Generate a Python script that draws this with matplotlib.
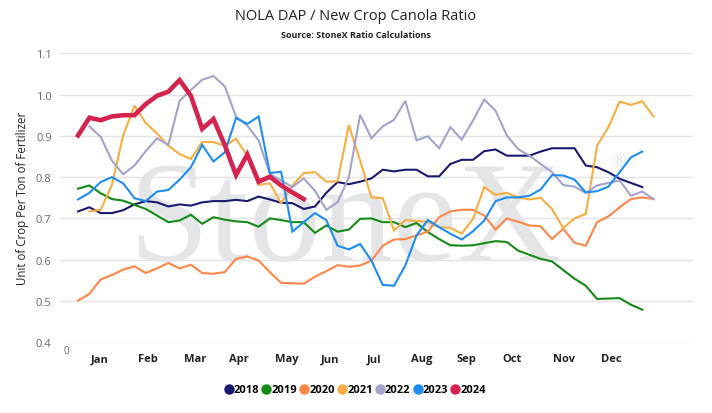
import numpy as np
import matplotlib
matplotlib.use("Agg")
import matplotlib.pyplot as plt
from matplotlib.lines import Line2D

plt.rcParams['font.family'] = ['Open Sans', 'DejaVu Sans']

# ------------------------------------------------------------------
# Data: weekly ratio (week 1..52)
# ------------------------------------------------------------------
weeks = np.arange(1, 53)

r2018 = [0.717, 0.727, 0.713, 0.713, 0.720, 0.734, 0.742, 0.739, 0.729, 0.734,
         0.731, 0.739, 0.742, 0.742, 0.745, 0.742, 0.753, 0.746, 0.738, 0.737,
         0.723, 0.729, 0.762, 0.788, 0.783, 0.789, 0.797, 0.818, 0.814, 0.818,
         0.818, 0.802, 0.802, 0.832, 0.842, 0.842, 0.863, 0.867, 0.852, 0.852,
         0.852, 0.862, 0.870, 0.870, 0.870, 0.828, 0.824, 0.812, 0.796, 0.786, 0.776, None]
r2019 = [0.772, 0.780, 0.761, 0.747, 0.743, 0.733, 0.723, 0.707, 0.691, 0.695,
         0.709, 0.687, 0.703, 0.697, 0.693, 0.691, 0.680, 0.700, 0.696, 0.691,
         0.691, 0.665, 0.683, 0.668, 0.673, 0.699, 0.700, 0.691, 0.691, 0.679,
         0.689, 0.667, 0.650, 0.635, 0.634, 0.635, 0.640, 0.645, 0.643, 0.622,
         0.612, 0.602, 0.596, 0.575, 0.554, 0.537, 0.505, 0.506, 0.507, 0.491, 0.479, None]
r2020 = [0.501, 0.517, 0.552, 0.563, 0.576, 0.584, 0.568, 0.579, 0.592, 0.579,
         0.588, 0.568, 0.566, 0.570, 0.602, 0.608, 0.598, 0.570, 0.544, 0.543,
         0.542, 0.559, 0.572, 0.587, 0.583, 0.586, 0.598, 0.634, 0.649, 0.650,
         0.659, 0.668, 0.703, 0.717, 0.721, 0.721, 0.707, 0.673, 0.700, 0.692,
         0.683, 0.681, 0.650, 0.675, 0.641, 0.634, 0.691, 0.705, 0.727, 0.747, 0.751, 0.747]
r2021 = [None, 0.717, 0.721, 0.781, 0.901, 0.973, 0.931, 0.906, 0.876, 0.856, 0.844,
         0.885, 0.885, 0.876, 0.893, 0.852, 0.781, 0.785, 0.737, 0.780, 0.810,
         0.812, 0.789, 0.790, 0.926, 0.840, 0.751, 0.749, 0.671, 0.696, 0.694,
         0.692, 0.679, 0.677, 0.663, 0.699, 0.776, 0.757, 0.762, 0.751, 0.746,
         0.750, 0.723, 0.677, 0.700, 0.711, 0.876, 0.921, 0.983, 0.975, 0.984, 0.947]
r2022 = [None, 0.923, 0.898, 0.840, 0.807, 0.828, 0.863, 0.894, 0.878, 0.985, 1.011,
         1.036, 1.045, 1.020, 0.947, 0.925, 0.889, 0.808, 0.792, 0.776, 0.797,
         0.767, 0.721, 0.739, 0.800, 0.951, 0.894, 0.923, 0.939, 0.985, 0.889,
         0.899, 0.870, 0.921, 0.891, 0.937, 0.988, 0.961, 0.901, 0.868, 0.852,
         0.832, 0.812, 0.781, 0.777, 0.762, 0.780, 0.786, 0.792, 0.755, 0.765, 0.747]
r2023 = [0.746, 0.762, 0.788, 0.800, 0.785, 0.749, 0.742, 0.765, 0.769, 0.794,
         0.824, 0.878, 0.838, 0.860, 0.943, 0.929, 0.947, 0.810, 0.813, 0.668,
         0.691, 0.713, 0.696, 0.634, 0.625, 0.638, 0.598, 0.539, 0.537, 0.586,
         0.659, 0.696, 0.679, 0.663, 0.649, 0.669, 0.695, 0.742, 0.751, 0.751,
         0.755, 0.770, 0.805, 0.804, 0.794, 0.763, 0.766, 0.777, 0.812, 0.848, 0.862, None]
r2024 = [0.901, 0.944, 0.938, 0.947, 0.950, 0.950, 0.977, 0.997, 1.007, 1.035,
         0.997, 0.917, 0.941, 0.878, 0.805, 0.855, 0.789, 0.801, 0.780, 0.763, 0.747]

years = ['2018', '2019', '2020', '2021', '2022', '2023', '2024']
series = [r2018, r2019, r2020, r2021, r2022, r2023, r2024]
colors = ['#191a6e', '#168a16', '#ff8548', '#f8ad43', '#a3a3cb', '#1e8cf0', '#d4234e']

months = ['Jan', 'Feb', 'Mar', 'Apr', 'May', 'Jun', 'Jul', 'Aug', 'Sep', 'Oct', 'Nov', 'Dec']
month_pos = [2.95, 7.23, 11.37, 15.3, 19.5, 23.3, 27.2, 31.5, 35.4, 39.45, 44.1, 48.3]

# ------------------------------------------------------------------
# Plot
# ------------------------------------------------------------------
fig = plt.figure(figsize=(7.12, 4.14), dpi=100)
ax = fig.add_axes([60/712, 1 - 343.3/414, 633/712, 289/414])

for yr, vals, c in zip(years, series, colors):
    y = np.array([np.nan if v is None else v for v in vals], dtype=float)
    lw = 3.3 if yr == '2024' else 1.5
    ax.plot(weeks[:len(y)], y, color=c, lw=lw, zorder=3, solid_joinstyle='miter')

# watermark
ax.text(128/712, 1 - 261/414, 'StoneX', transform=fig.transFigure,
        family=['Liberation Serif', 'DejaVu Serif'], fontsize=104,
        color='#e4e5e7', ha='left', va='baseline', zorder=1)
ax.text(619/712, 1 - 162/414, '\u00ae', transform=fig.transFigure,
        family=['Liberation Serif', 'DejaVu Serif'], fontsize=14,
        color='#e4e5e7', ha='center', va='center', zorder=1)

ax.set_xlim(-0.6, 55.5)
ax.set_ylim(0.4, 1.1)
ax.set_yticks(np.arange(0.4, 1.11, 0.1))
ax.set_yticklabels([f'{v:.1f}' for v in np.arange(0.4, 1.11, 0.1)],
                   color='#666666', fontsize=8)
ax.set_xticks(month_pos)
ax.set_xticklabels(months, fontsize=8, fontweight='bold', color='#222222')
ax.set_xticks([0], minor=True)
ax.set_xticklabels(['0'], minor=True, fontsize=7, color='#666666')
ax.tick_params(axis='x', which='minor', length=0, pad=2)
ax.tick_params(axis='x', which='major', length=0, pad=8)
ax.tick_params(axis='y', length=0, pad=6)

ax.grid(axis='y', color='#e3e3e3', lw=1)
ax.set_axisbelow(True)
for s in ax.spines.values():
    s.set_visible(False)

ax.set_ylabel('Unit of Crop Per Ton of Fertilizer', fontsize=8.3, color='#222222', labelpad=5)

fig.text(0.5, 1 - 16/414, 'NOLA DAP / New Crop Canola Ratio', ha='center', va='center',
         fontsize=10.5, color='#222222')
fig.text(0.5, 1 - 35/414, 'Source: StoneX Ratio Calculations', ha='center', va='center',
         fontsize=6.5, fontweight='bold', color='#222222')

handles = [Line2D([], [], marker='o', ls='none', color=c, markersize=6.5) for c in colors]
fig.legend(handles, years, loc='center', bbox_to_anchor=(355/712, 1 - 391/414),
           ncol=7, frameon=False, handletextpad=0.05, columnspacing=0.25,
           handlelength=0.8, prop={'weight': 'bold', 'size': 8})

fig.savefig('out.png', dpi=100)
